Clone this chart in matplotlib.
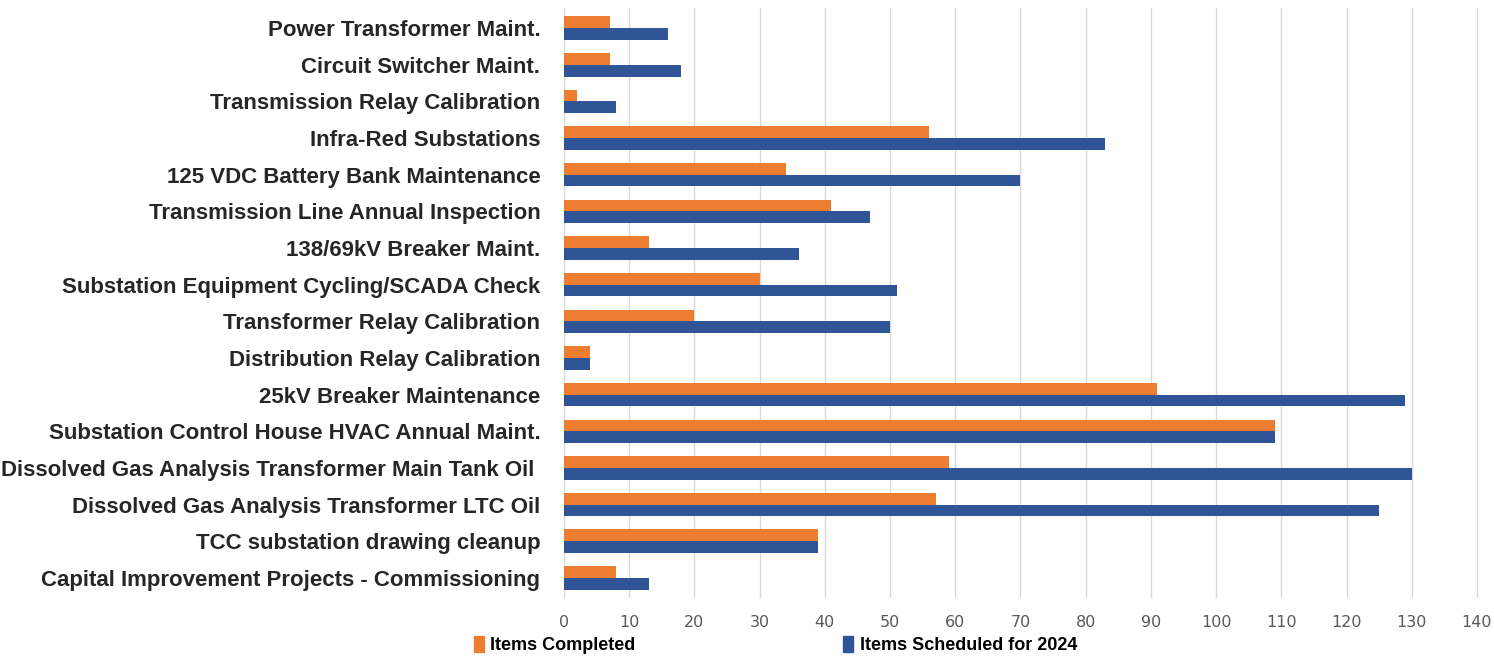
import matplotlib
matplotlib.use('Agg')
import matplotlib.pyplot as plt
import numpy as np
from matplotlib.patches import Patch

# categories listed bottom to top (as Excel draws them)
categories = [
    'Capital Improvement Projects - Commissioning',
    'TCC substation drawing cleanup',
    'Dissolved Gas Analysis Transformer LTC Oil',
    'Dissolved Gas Analysis Transformer Main Tank Oil ',
    'Substation Control House HVAC Annual Maint.',
    '25kV Breaker Maintenance',
    'Distribution Relay Calibration',
    'Transformer Relay Calibration',
    'Substation Equipment Cycling/SCADA Check',
    '138/69kV Breaker Maint.',
    'Transmission Line Annual Inspection',
    '125 VDC Battery Bank Maintenance',
    'Infra-Red Substations',
    'Transmission Relay Calibration',
    'Circuit Switcher Maint.',
    'Power Transformer Maint.',
]
completed = [8, 39, 57, 59, 109, 91, 4, 20, 30, 13, 41, 34, 56, 2, 7, 7]
scheduled = [13, 39, 125, 130, 109, 129, 4, 50, 51, 36, 47, 70, 83, 8, 18, 16]
xticks = list(range(0, 141, 10))

orange = '#ED7D31'
blue = '#2F5597'
font = ['Liberation Sans', 'DejaVu Sans']

fig = plt.figure(figsize=(14.94, 6.57), dpi=100)
ax = fig.add_axes([564 / 1494, 1 - 598 / 657, (1490 - 564) / 1494, (598 - 8) / 657])

y = np.arange(len(categories))
h = 0.32
ax.barh(y + h / 2, completed, height=h, color=orange, label='Items Completed', zorder=3)
ax.barh(y - h / 2, scheduled, height=h, color=blue, label='Items Scheduled for 2024', zorder=3)

ax.set_xlim(0, 142)
ax.set_ylim(-0.55, len(categories) - 0.45)
ax.set_xticks(xticks)
ax.set_yticks(y)
ax.set_yticklabels(categories, fontsize=16, fontweight='bold', color='#262626', family=font)
ax.tick_params(axis='y', length=0, pad=17)
ax.tick_params(axis='x', length=0, labelsize=11.5, labelcolor='#595959', pad=12)
ax.grid(axis='x', color='#D9D9D9', linewidth=1, zorder=0)
for s in ['top', 'right', 'bottom']:
    ax.spines[s].set_visible(False)
ax.spines['left'].set_color('#D9D9D9')

legend_font = {'family': font, 'weight': 'bold', 'size': 13}
leg1 = fig.legend([Patch(color=orange)], ['Items Completed'], loc='center left',
                  bbox_to_anchor=(458 / 1494, 1 - 645 / 657), frameon=False,
                  handlelength=0.55, handleheight=1.0, handletextpad=0.35, prop=legend_font)
leg2 = fig.legend([Patch(color=blue)], ['Items Scheduled for 2024'], loc='center left',
                  bbox_to_anchor=(827 / 1494, 1 - 645 / 657), frameon=False,
                  handlelength=0.55, handleheight=1.0, handletextpad=0.35, prop=legend_font)

fig.savefig('out.png', dpi=100, facecolor='white')
